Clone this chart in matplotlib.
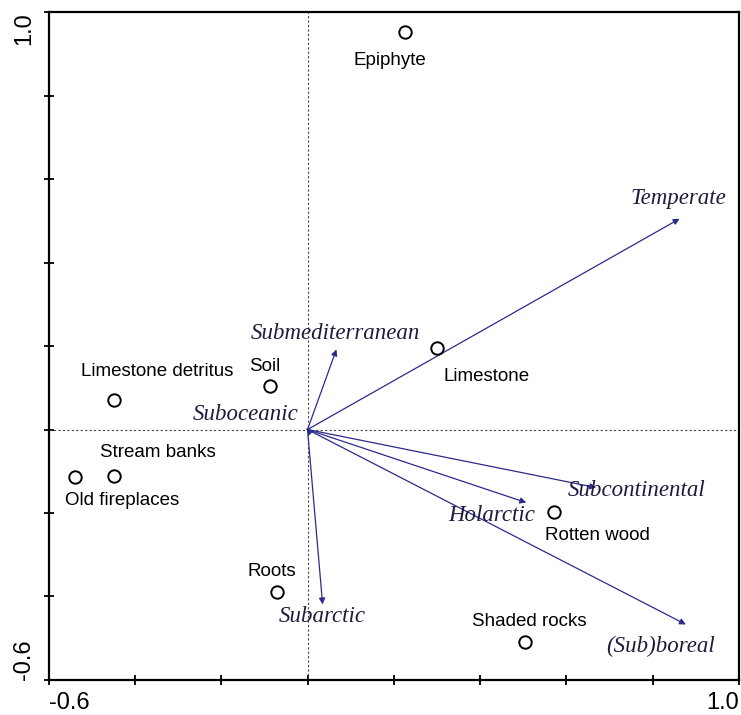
import matplotlib.pyplot as plt

# 样点（生境）坐标
sites = ["Epiphyte", "Limestone", "Soil", "Limestone detritus", "Stream banks",
         "Old fireplaces", "Roots", "Rotten wood", "Shaded rocks"]
site_x = [0.225, 0.301, -0.088, -0.449, -0.449, -0.539, -0.071, 0.572, 0.503]
site_y = [0.952, 0.195, 0.104, 0.071, -0.111, -0.114, -0.389, -0.198, -0.509]
# 标签位置
site_lx = [0.19, 0.415, -0.099, -0.349, -0.347, -0.43, -0.083, 0.672, 0.515]
site_ly = [0.885, 0.128, 0.15, 0.14, -0.056, -0.169, -0.341, -0.253, -0.459]

# 环境变量箭头
envs = ["Temperate", "Submediterranean", "Suboceanic", "Subcontinental",
        "Holarctic", "(Sub)boreal", "Subarctic"]
env_x = [0.8625, 0.067, -0.003, 0.669, 0.507, 0.877, 0.035]
env_y = [0.505, 0.192, 0.003, -0.139, -0.175, -0.467, -0.419]
env_lx = [0.86, 0.065, -0.02, 0.762, 0.427, 0.818, 0.035]
env_ly = [0.553, 0.229, 0.035, -0.147, -0.207, -0.519, -0.449]
env_ha = ["center", "center", "right", "center", "center", "center", "center"]

fig = plt.figure(figsize=(7.41, 7.15), dpi=100)
ax = fig.add_axes([0.0657, 0.049, 0.9315, 0.934])

ax.axhline(0, color="#444444", lw=0.8, ls=(0, (2, 2)))
ax.axvline(0, color="#444444", lw=0.8, ls=(0, (2, 2)))

arrow_color = "#2b2b8c"
for x, y in zip(env_x, env_y):
    ax.annotate("", xy=(x, y), xytext=(0, 0),
                arrowprops=dict(arrowstyle="-|>", color=arrow_color, lw=0.9,
                                mutation_scale=9, shrinkA=0, shrinkB=0))
for name, x, y, ha in zip(envs, env_lx, env_ly, env_ha):
    ax.text(x, y, name, ha=ha, va="center", fontsize=16.5, style="italic",
            family="Liberation Serif", color="#1c1c3c")

ax.scatter(site_x, site_y, s=80, facecolors="white", edgecolors="black",
           linewidths=1.4, zorder=3)
for name, x, y in zip(sites, site_lx, site_ly):
    ax.text(x, y, name, ha="center", va="center", fontsize=13.5,
            family="Liberation Sans", color="black")

ax.set_xlim(-0.6, 1.0)
ax.set_ylim(-0.6, 1.0)
ticks = [-0.6, -0.4, -0.2, 0.0, 0.2, 0.4, 0.6, 0.8, 1.0]
labels = ["-0.6", "", "", "", "", "", "", "", "1.0"]
ax.set_xticks(ticks, labels)
ax.set_yticks(ticks, labels)
ax.tick_params(direction="inout", length=7, width=1.3, labelsize=17)
ax.tick_params(axis="x", pad=5)
ax.tick_params(axis="y", pad=6)
for t in ax.get_yticklabels():
    t.set_rotation(90)
ylabs = ax.get_yticklabels()
ylabs[0].set_verticalalignment("bottom")
ylabs[-1].set_verticalalignment("top")
xlabs = ax.get_xticklabels()
xlabs[0].set_horizontalalignment("left")
xlabs[-1].set_horizontalalignment("right")
for t in xlabs + ylabs:
    t.set_family("Liberation Sans")
for s in ax.spines.values():
    s.set_linewidth(1.6)

plt.savefig("out.png", dpi=100)
